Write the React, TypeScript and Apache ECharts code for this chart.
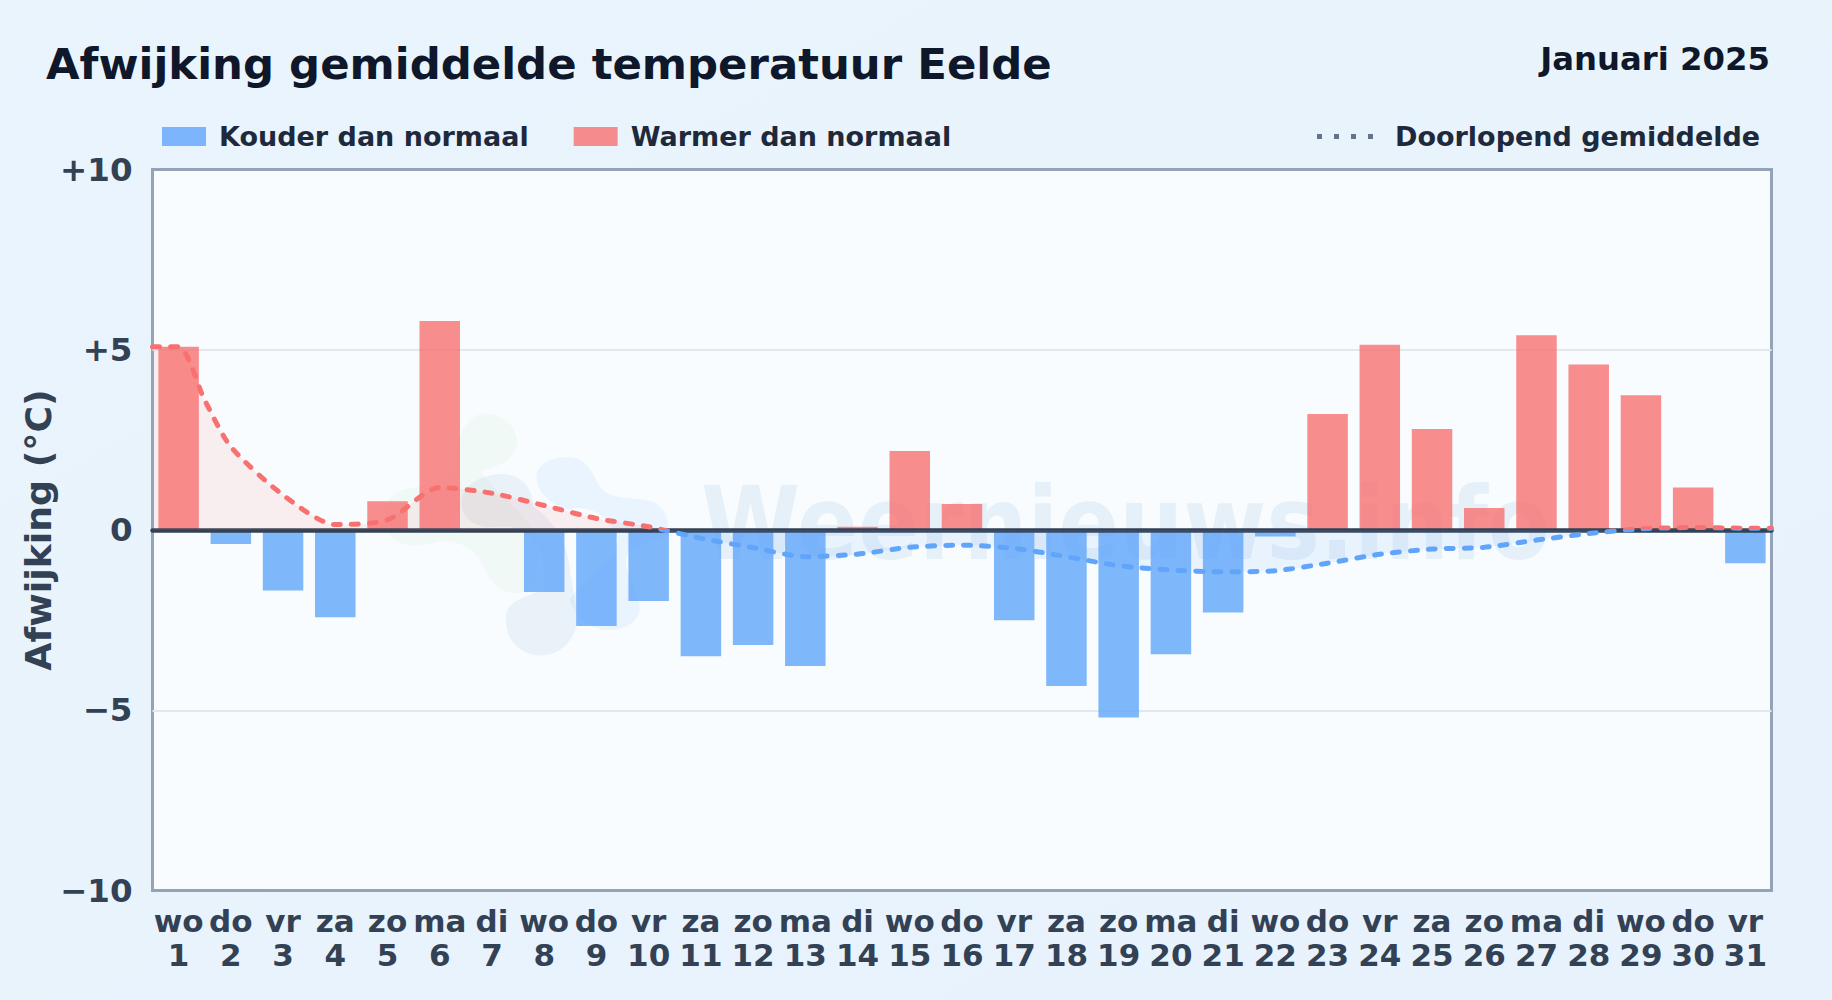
import React, { useEffect, useRef } from "react";
import * as echarts from "echarts";

const FONT = '"DejaVu Sans", sans-serif';

const dayNames = ["wo","do","vr","za","zo","ma","di","wo","do","vr","za","zo","ma","di","wo","do","vr","za","zo","ma","di","wo","do","vr","za","zo","ma","di","wo","do","vr"];
const dayNumbers = ["1","2","3","4","5","6","7","8","9","10","11","12","13","14","15","16","17","18","19","20","21","22","23","24","25","26","27","28","29","30","31"];
const deviations = [5.08,-0.39,-1.68,-2.42,0.8,5.8,0,-1.72,-2.66,-1.97,-3.5,-3.19,-3.77,0.09,2.19,0.72,-2.5,-4.33,-5.2,-3.45,-2.29,-0.18,3.22,5.14,2.8,0.61,5.4,4.59,3.74,1.18,-0.92];
// Running mean. Line positions are in day units, from the plot's left edge.
const meanPositions = [0,0.5,1,1.5,2.5,3.5,4.5,5.5,6.5,7.5,8.5,9.5,10.5,11.5,12.5,13.5,14.5,15.5,16.5,17.5,18.5,19.5,20.5,21.5,22.5,23.5,24.5,25.5,26.5,27.5,28.5,29.5,30.5,31];
const meanValues = [5.08,5.08,3.6,2.31,0.97,0.15,0.28,1.18,1.02,0.68,0.32,0.09,-0.23,-0.49,-0.74,-0.67,-0.48,-0.42,-0.51,-0.74,-0.99,-1.11,-1.16,-1.13,-0.92,-0.67,-0.53,-0.48,-0.28,-0.1,0.03,0.07,0.05,0.05];
const yTickLabels: Record<string,string> = { "10":"+10", "5":"+5", "0":"0", "-5":"\u22125", "-10":"\u221210" };

const BLUE = "rgba(96,165,250,0.8)";
const RED = "rgba(248,113,113,0.8)";

const PLOT_TOP = 169.5;
const PLOT_BOTTOM = 890.5;
const splitGradient = (above: string, below: string) => ({
  type: "linear", global: true, x: 0, y: PLOT_TOP, x2: 0, y2: PLOT_BOTTOM,
  colorStops: [
    { offset: 0, color: above }, { offset: 0.5, color: above },
    { offset: 0.5, color: below }, { offset: 1, color: below },
  ],
});

echarts.graphic.registerShape("wmGreen", echarts.graphic.extendPath(
  "M120 265C170 260 220 240 265 215C250 170 260 70 330 42C400 30 450 90 440 140C430 190 370 200 330 215C400 300 470 340 490 400C520 470 500 560 450 580C400 585 360 550 340 500C320 450 270 420 210 425C130 450 60 440 45 370C30 310 70 270 120 265Z", {}) as any);
echarts.graphic.registerShape("wmGray", echarts.graphic.extendPath(
  "M275 310C275 250 340 222 400 222C460 225 490 270 490 320C540 350 590 420 600 500C605 560 625 620 620 680C600 750 540 775 490 765C430 750 400 700 410 640C420 600 470 590 520 570C540 480 500 400 440 385C400 375 370 385 340 380C300 370 275 350 275 310Z", {}) as any);
echarts.graphic.registerShape("wmLight", echarts.graphic.extendPath(
  "M500 230C500 190 550 170 600 172C650 175 670 220 690 260C710 295 780 295 830 300C880 310 905 360 890 400C860 430 790 420 770 470C760 520 805 570 810 620C810 670 760 695 700 690C650 680 610 640 600 600C640 540 740 480 745 420C720 340 640 310 600 330C550 320 500 280 500 230Z", {}) as any);

export default function App() {
  const ref = useRef<HTMLDivElement>(null);
  useEffect(() => {
    document.body.style.margin = "0";
    const chart = echarts.init(ref.current!, undefined, { renderer: "svg" });
    const shapeBase = { x: 370, y: 400, scaleX: 1 / 3, scaleY: 1 / 3 };
    chart.setOption({
      animation: false,
      backgroundColor: {
        type: "linear", x: 0, y: 0, x2: 1, y2: 1,
        colorStops: [{ offset: 0, color: "#e9f4fd" }, { offset: 1, color: "#e7f2fc" }],
      },
      title: [
        { text: "Afwijking gemiddelde temperatuur Eelde", left: 46, top: 42, padding: 0,
          textStyle: { fontFamily: FONT, fontWeight: "bold", fontSize: 43.4, color: "#0f172a" } },
        { text: "Januari 2025", right: 62, top: 43, padding: 0,
          textStyle: { fontFamily: FONT, fontWeight: "bold", fontSize: 32.3, color: "#0f172a" } },
      ],
      legend: [
        { left: 162, top: 123, padding: 0, itemWidth: 44, itemHeight: 19, itemGap: 45, icon: "rect", selectedMode: false,
          data: ["Kouder dan normaal", "Warmer dan normaal"],
          textStyle: { fontFamily: FONT, fontWeight: "bold", fontSize: 27, color: "#1e293b", padding: [0, 0, 0, 8] } },
        { left: 1317, top: 123, padding: 0, itemWidth: 56, itemHeight: 5, selectedMode: false,
          icon: "path://M0 0h5v5H0zM17 0h5v5h-5zM34 0h5v5h-5zM51 0h5v5h-5z",
          itemStyle: { color: "#64748b", borderWidth: 0 },
          data: ["Doorlopend gemiddelde"],
          textStyle: { fontFamily: FONT, fontWeight: "bold", fontSize: 27, color: "#1e293b", padding: [0, 0, 0, 17] } },
      ],
      grid: { left: 152.5, right: 60.5, top: PLOT_TOP, bottom: 1000 - PLOT_BOTTOM, show: true,
        backgroundColor: "#f8fcff", borderColor: "#94a3b8", borderWidth: 3 },
      graphic: {
        elements: [
          { type: "wmGreen", z: 1, ...shapeBase, style: { fill: "rgba(120,190,90,0.05)" } },
          { type: "wmLight", z: 1, ...shapeBase, style: { fill: "rgba(90,170,250,0.09)" } },
          { type: "wmGray", z: 1, ...shapeBase, style: { fill: "rgba(50,110,170,0.07)" } },
          { type: "text", z: 1, x: 701, y: 575, scaleX: 0.882, style: { text: "Weernieuws.info", fontFamily: FONT, fontSize: 102, fontWeight: "bold",
            fill: "rgba(50,120,190,0.09)", verticalAlign: "bottom" } },
        ],
      },
      xAxis: [
        { type: "category", data: dayNames.map((d, i) => `${d}\n${dayNumbers[i]}`), z: 5,
          axisTick: { show: false },
          axisLine: { onZero: true, lineStyle: { color: "#334155", width: 4.5 } },
          axisLabel: { interval: 0, fontFamily: FONT, fontWeight: "bold", fontSize: 31, lineHeight: 34, color: "#334155", margin: 13 },
          position: "bottom" },
        { type: "value", min: 0, max: 31, show: false },
      ],
      yAxis: {
        type: "value", min: -10, max: 10, interval: 5,
        name: "Afwijking (\u00b0C)", nameLocation: "middle", nameGap: 96, nameRotate: 90, nameMoveOverlap: false,
        nameTextStyle: { fontFamily: FONT, fontWeight: "bold", fontSize: 36.3, color: "#334155" },
        axisLine: { show: false }, axisTick: { show: false },
        axisLabel: { margin: 20, fontFamily: FONT, fontWeight: "bold", fontSize: 32.5, color: "#334155",
          formatter: (v: number) => yTickLabels[String(v)] },
        splitLine: { showMinLine: false, showMaxLine: false, lineStyle: { color: "#e2e8f0", width: 2 } },
      },
      series: [
        { name: "Kouder dan normaal", type: "bar", stack: "d", barWidth: 40.5, itemStyle: { color: BLUE },
          data: deviations.map((v) => (v < 0 ? v : null)) },
        { name: "Warmer dan normaal", type: "bar", stack: "d", barWidth: 40.5, itemStyle: { color: RED },
          data: deviations.map((v) => (v >= 0 ? v : null)) },
        { name: "Doorlopend gemiddelde", type: "line", xAxisIndex: 1, yAxisIndex: 0, smooth: 0.25, symbol: "none", z: 6,
          lineStyle: { width: 5, type: [7, 11], cap: "round", color: splitGradient("#f87171", "#60a5fa") },
          areaStyle: { color: splitGradient("rgba(248,113,113,0.1)", "rgba(96,165,250,0.1)"), opacity: 1 },
          data: meanPositions.map((x, i) => [x, meanValues[i]]) },
      ],
    });
    return () => chart.dispose();
  }, []);
  return <div ref={ref} style={{ width: 1832, height: 1000 }} />;
}
